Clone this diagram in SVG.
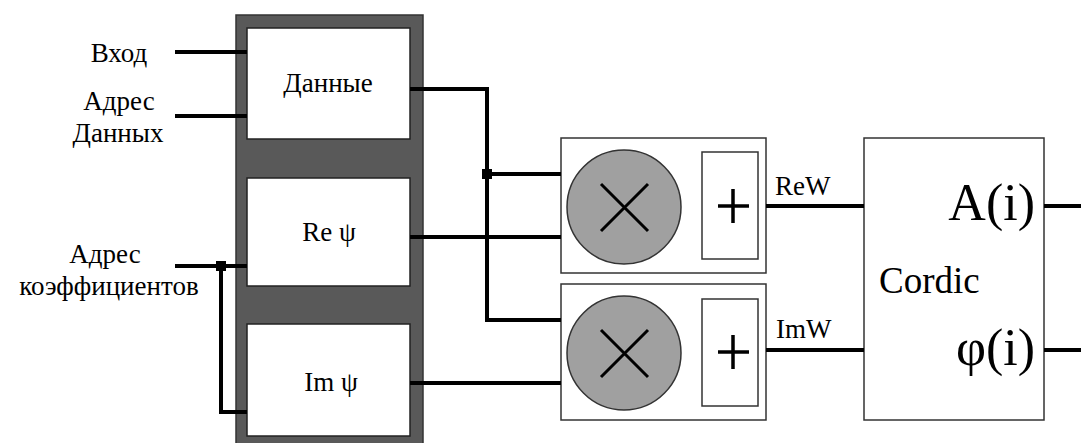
<svg xmlns="http://www.w3.org/2000/svg" width="1081" height="443" viewBox="0 0 1081 443">
<style>
.t{font-size:27px}
.w{stroke:#000;stroke-width:4;fill:none}
.box{fill:#fff;stroke:#333;stroke-width:1.5}
.mem{fill:#fff;stroke:#222;stroke-width:1.5}
</style>
<rect width="1081" height="443" fill="#fff"/>
<g font-family="'Liberation Serif', 'Times New Roman', Tinos, 'DejaVu Serif', 'Noto Serif', serif" fill="#000">
<g id="memory">
<rect x="236" y="15" width="187" height="440" fill="#595959" stroke="#333" stroke-width="1.5"/>
</g>
<g id="data">
<rect class="mem" x="247" y="28" width="163" height="111"/>
<text class="t" x="328" y="92" text-anchor="middle">Данные</text>
</g>
<g id="rePsi">
<rect class="mem" x="247" y="178" width="163" height="108"/>
<text class="t" x="329" y="241" text-anchor="middle">Re ψ</text>
</g>
<g id="imPsi">
<rect class="mem" x="247" y="324" width="163" height="112"/>
<text class="t" x="331" y="391" text-anchor="middle">Im ψ</text>
</g>
<g id="labels">
<text class="t" x="119" y="62" text-anchor="middle">Вход</text>
<text class="t" x="119" y="110" text-anchor="middle">Адрес</text>
<text class="t" x="118" y="142" text-anchor="middle">Данных</text>
<text class="t" x="105" y="263" text-anchor="middle">Адрес</text>
<text class="t" x="109" y="295" text-anchor="middle">коэффициентов</text>
</g>
<g id="mac1">
<rect class="box" x="561" y="138" width="205" height="135"/>
<circle cx="624" cy="207" r="57" fill="#a0a0a0" stroke="#333" stroke-width="1.5"/>
<path d="M601 184L648 231M648 184L601 231" stroke="#000" stroke-width="3"/>
<rect class="box" x="702" y="152" width="56" height="107"/>
<path d="M718 206H749M733 189V223" stroke="#000" stroke-width="3.5"/>
</g>
<g id="mac2">
<rect class="box" x="561" y="284" width="205" height="136"/>
<circle cx="624" cy="353" r="57" fill="#a0a0a0" stroke="#333" stroke-width="1.5"/>
<path d="M601 330L648 377M648 330L601 377" stroke="#000" stroke-width="3"/>
<rect class="box" x="702" y="299" width="56" height="107"/>
<path d="M718 352H749M733 335V369" stroke="#000" stroke-width="3.5"/>
</g>
<g id="cordic">
<rect class="box" x="864" y="138" width="180" height="282"/>
<text x="879" y="293" font-size="37">Cordic</text>
<text x="1035" y="220" font-size="52" text-anchor="end">A(i)</text>
<text x="1035" y="365" font-size="52" text-anchor="end">φ(i)</text>
</g>
<g id="connectors">
<path class="w" d="M175 52H247M175 116H247M175 266H247M221 266V412H247"/>
<rect x="216" y="261" width="10" height="10" fill="#000"/>
<path class="w" d="M410 89H487V320H561M487 174H561M410 237H561M410 383H561"/>
<rect x="482" y="169" width="10" height="10" fill="#000"/>
<path class="w" d="M766 206H864M766 350H864M1044 206H1081M1044 350H1081"/>
<text class="t" x="775" y="195">ReW</text>
<text class="t" x="776" y="338">ImW</text>
</g>
</g>
</svg>
